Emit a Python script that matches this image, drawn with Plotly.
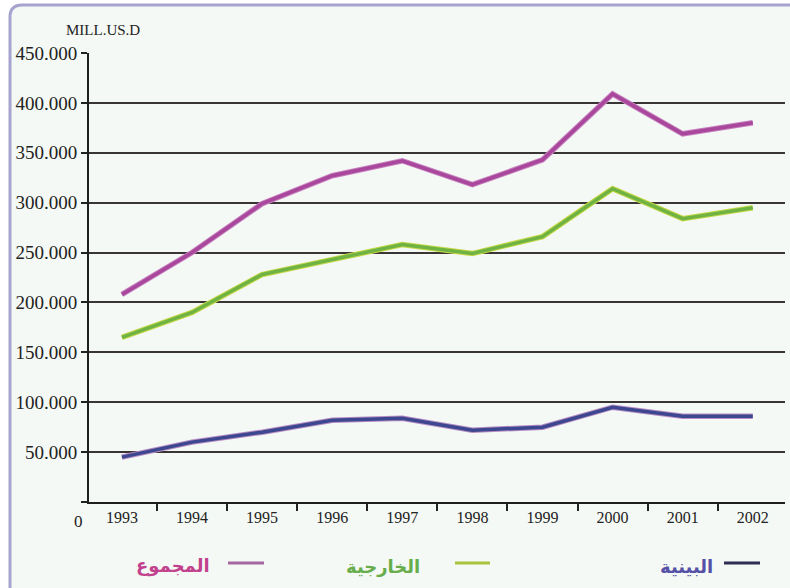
import plotly.graph_objects as go

years = [1993, 1994, 1995, 1996, 1997, 1998, 1999, 2000, 2001, 2002]
total = [208, 250, 299, 327, 342, 318, 343, 409, 369, 380]       # المجموع
external = [165, 190, 228, 243, 258, 249, 266, 314, 284, 295]    # الخارجية
intra = [45, 60, 70, 82, 84, 72, 75, 95, 86, 86]                 # البينية

y_ticks = [0, 50, 100, 150, 200, 250, 300, 350, 400, 450]
y_labels = ["", "50.000", "100.000", "150.000", "200.000", "250.000",
            "300.000", "350.000", "400.000", "450.000"]
grid_vals = [50, 100, 150, 200, 250, 300, 350, 400]

names = ["المجموع", "الخارجية", "البينية"]
core_colors = ["#a8479c", "#6fb342", "#3d4790"]
edge_colors = ["#c77fbe", "#c8d84a", "#b58cc4"]
text_colors = ["#c2418d", "#68ad4c", "#5451a6"]
legend_line_colors = ["#a4679f", "#a9c43c", "#2e2e55"]

W, H = 790, 588
L, R, T, B = 89, 5, 53, 86
pw, ph = W - L - R, H - T - B
SERIF = "Liberation Serif, Times New Roman, serif"


def px(x):
    return (x - L) / pw


def py(y):
    return (H - B - y) / ph


fig = go.Figure()
for vals, c_edge, c_core, nm in zip([total, external, intra], edge_colors, core_colors, names):
    fig.add_trace(go.Scatter(x=years, y=vals, mode="lines", line=dict(color=c_edge, width=5.5),
                             showlegend=False, hoverinfo="skip"))
    fig.add_trace(go.Scatter(x=years, y=vals, mode="lines", line=dict(color=c_core, width=3.5),
                             name=nm, showlegend=False))

# invisible trace on secondary axis for gridlines
fig.add_trace(go.Scatter(x=[years[0]], y=[0], yaxis="y2", mode="markers",
                         marker=dict(opacity=0), showlegend=False, hoverinfo="skip"))

bg = "#f4f9f5"
shapes = []
r = 12
x0, y0 = px(10), py(5)
x1, y1 = px(W + 20), py(H + 20)
rx, ry = r / pw, r / ph
shapes.append(dict(type="path", xref="paper", yref="paper", layer="below",
                   path=f"M {x0} {y1} L {x0} {y0 - ry} Q {x0} {y0} {x0 + rx} {y0} L {x1} {y0} L {x1} {y1} Z",
                   fillcolor=bg, line=dict(color="#a7a3cf", width=3)))

annotations = [
    dict(text="MILL.US.D", xref="paper", yref="paper", x=px(64), y=py(30), xanchor="left",
         yanchor="middle", showarrow=False,
         font=dict(family=SERIF, size=15, color="#222")),
    dict(text="0", xref="paper", yref="paper", x=px(78), y=py(521), xanchor="center",
         yanchor="middle", showarrow=False,
         font=dict(family=SERIF, size=17, color="#222")),
]

legend_text_x = [212, 422, 715]
legend_line_x = [(228, 264), (455, 490), (724, 760)]
for nm, tc, lc, tx, (la, lb) in zip(names, text_colors, legend_line_colors, legend_text_x, legend_line_x):
    annotations.append(dict(text=f"<b>{nm}</b>", xref="paper", yref="paper", x=px(tx), y=py(566),
                            xanchor="right", yanchor="middle", showarrow=False,
                            font=dict(family="DejaVu Sans", size=18, color=tc)))
    shapes.append(dict(type="line", xref="paper", yref="paper", x0=px(la), x1=px(lb),
                       y0=py(563), y1=py(563), line=dict(color=lc, width=3)))

fig.update_layout(
    width=W, height=H,
    margin=dict(l=L, r=R, t=T, b=B, pad=0),
    paper_bgcolor="white",
    plot_bgcolor="rgba(0,0,0,0)",
    shapes=shapes,
    annotations=annotations,
    showlegend=False,
    xaxis=dict(range=[1992.53, 2002.46], tickmode="array", tickvals=years,
               ticktext=[str(y) for y in years], ticks="", showgrid=False, zeroline=False,
               showline=True, linecolor="#1e1e1e", linewidth=2,
               tickfont=dict(family=SERIF, size=16, color="#222"),
               minor=dict(tickmode="array", tickvals=[y + 0.5 for y in years[:-1]],
                          ticks="outside", ticklen=7, tickwidth=2, tickcolor="#222",
                          showgrid=False)),
    yaxis=dict(range=[0, 450], tickmode="array", tickvals=y_ticks, ticktext=y_labels,
               ticks="outside", ticklen=6, tickwidth=2, tickcolor="#222",
               showgrid=False, zeroline=False, showline=True, linecolor="#1e1e1e", linewidth=2,
               tickfont=dict(family=SERIF, size=19, color="#222")),
    yaxis2=dict(range=[0, 450], overlaying="y", tickmode="array", tickvals=grid_vals,
                showticklabels=False, showgrid=True, gridcolor="#3a3535", gridwidth=2,
                zeroline=False, showline=False, ticks=""),
)

fig.write_html("out.html", config={"displayModeBar": False},
               post_script="document.body.style.margin='0';document.body.style.overflow='hidden';")
